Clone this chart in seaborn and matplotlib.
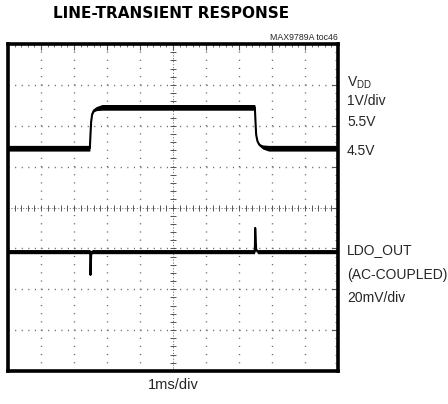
import numpy as np
import pandas as pd
import matplotlib
matplotlib.use("Agg")
import matplotlib.pyplot as plt
import seaborn as sns

# Time axis in ms, vertical position in screen divisions (0 = bottom, 8 = top)
vdd_t = [0.0, 2.48, 2.50, 2.52, 2.55, 2.60, 2.68, 2.85, 7.48, 7.50, 7.52, 7.56, 7.62, 7.72, 7.90, 10.0]
vdd_div = [5.45, 5.45, 5.80, 6.10, 6.28, 6.37, 6.42, 6.45, 6.45, 6.10, 5.78, 5.62, 5.53, 5.48, 5.45, 5.45]
vdd_noise = [0.07, 0.07, 0.0, 0.0, 0.01, 0.03, 0.05, 0.07, 0.07, 0.0, 0.0, 0.01, 0.03, 0.05, 0.07, 0.07]

ldo_t = [0.0, 2.48, 2.49, 2.50, 2.52, 2.55, 7.47, 7.48, 7.49, 7.52, 7.56, 10.0]
ldo_div = [2.92, 2.92, 2.92, 2.35, 2.85, 2.92, 2.92, 2.92, 3.50, 2.98, 2.92, 2.92]
ldo_noise = [0.05, 0.05, 0.0, 0.0, 0.0, 0.05, 0.05, 0.0, 0.0, 0.0, 0.05, 0.05]

n_xdiv, n_ydiv = 10, 8

sns.set_theme(style="white")
plt.rcParams["font.family"] = ["Liberation Sans", "DejaVu Sans"]

fig = plt.figure(figsize=(4.48, 4.04), dpi=100)
ax = fig.add_axes([8 / 448, 33 / 404, 330 / 448, 327 / 404])

vdd = pd.DataFrame({"t": vdd_t, "v": vdd_div, "w": vdd_noise})
ldo = pd.DataFrame({"t": ldo_t, "v": ldo_div, "w": ldo_noise})

for df in (vdd, ldo):
    sns.lineplot(data=df, x="t", y="v", ax=ax, color="black", lw=1.5,
                 sort=False, estimator=None)
    ax.fill_between(df["t"], df["v"] - df["w"], df["v"] + df["w"],
                    color="black", lw=0)

ax.set_xlim(0, n_xdiv)
ax.set_ylim(0, n_ydiv)
ax.set_xlabel("")
ax.set_ylabel("")

# Dotted graticule
dot_x = 330 / n_xdiv * 0.2 * 72 / 100
dot_y = 327 / n_ydiv * 0.2 * 72 / 100
for gx in range(1, n_xdiv):
    if gx == n_xdiv // 2:
        continue
    ax.axvline(gx, color="#666666", lw=1.0, ls=(0, (0.8, dot_y - 0.8)), zorder=0)
for gy in range(1, n_ydiv):
    if gy == n_ydiv // 2:
        continue
    ax.axhline(gy, color="#666666", lw=1.0, ls=(0, (0.8, dot_x - 0.8)), zorder=0)

# Center crosshair with 0.2-division tick marks
cx, cy = n_xdiv / 2, n_ydiv / 2
ax.axvline(cx, color="#777777", lw=0.7, ls=(0, (1.2, 1.8)), zorder=0)
ax.axhline(cy, color="#777777", lw=0.7, ls=(0, (1.2, 1.8)), zorder=0)
sub_y = np.arange(0, n_ydiv + 0.01, 0.2)
sub_x = np.arange(0, n_xdiv + 0.01, 0.2)
ax.plot(np.full_like(sub_y, cx), sub_y, ls="none", marker="_", ms=4, mew=0.7, color="#555555", zorder=0)
ax.plot(sub_x, np.full_like(sub_x, cy), ls="none", marker="|", ms=4, mew=0.7, color="#555555", zorder=0)

# Frame and edge ticks
for s in ax.spines.values():
    s.set_linewidth(2.6)
    s.set_color("black")
ax.set_xticks(range(0, n_xdiv + 1))
ax.set_yticks(range(0, n_ydiv + 1))
ax.set_xticks(sub_x, minor=True)
ax.set_yticks(sub_y, minor=True)
ax.tick_params(which="both", direction="in", top=True, right=True,
               labelbottom=False, labelleft=False, color="#555555")
ax.tick_params(which="major", length=4, width=0.8)
ax.tick_params(which="minor", length=2.5, width=0.6)

# Text
fig.text(171 / 448, 1 - 14 / 404, "LINE-TRANSIENT RESPONSE", ha="center", va="center",
         fontsize=11, fontweight="heavy", color="black", family=["DejaVu Sans"])
fig.text(338 / 448, 1 - 37 / 404, "MAX9789A toc46", ha="right", va="center", fontsize=6.3)

lx = 347 / 448
right_labels = [
    (83, r"V$_{\mathregular{DD}}$"),
    (101, "1V/div"),
    (122, "5.5V"),
    (151, "4.5V"),
    (250, "LDO_OUT"),
    (275, "(AC-COUPLED)"),
    (298, "20mV/div"),
]
for ypix, txt in right_labels:
    fig.text(lx, 1 - ypix / 404, txt, ha="left", va="center", fontsize=10)

fig.text(173 / 448, 1 - 385 / 404, "1ms/div", ha="center", va="center", fontsize=10.5)

fig.savefig("out.png", dpi=100)
